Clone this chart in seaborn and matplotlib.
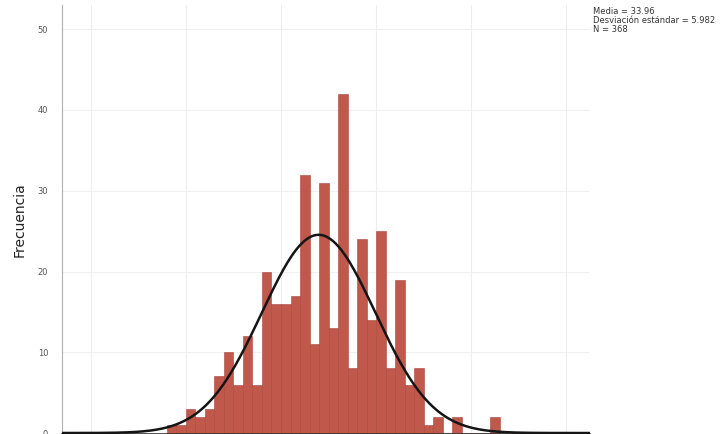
import numpy as np
import pandas as pd
import matplotlib
matplotlib.use("Agg")
import matplotlib.pyplot as plt
import seaborn as sns

# puntajes (valor entero) y su frecuencia
valores = [18, 19, 20, 21, 22, 23, 24, 25, 26, 27, 28, 29, 30, 31, 32, 33, 34, 35,
           36, 37, 38, 39, 40, 41, 42, 43, 44, 45, 46, 47, 48, 49, 50, 51, 52]
frecuencias = [1, 1, 3, 2, 3, 7, 10, 6, 12, 6, 20, 16, 16, 17, 32, 11, 31, 13,
               42, 8, 24, 14, 25, 8, 19, 6, 8, 1, 2, 0, 2, 0, 0, 0, 2]
media = 33.96
desv = 5.982
n = 368
yticks = [0, 10, 20, 30, 40, 50]

df = pd.DataFrame({'valor': valores, 'frecuencia': frecuencias})

sns.set_style('white')
plt.rcParams['font.family'] = ['DejaVu Sans']

fig = plt.figure(figsize=(7.21, 4.34), dpi=100)
ax = fig.add_axes([0.086, 0.0, 0.732, 0.9885])

# grid (muy tenue)
for y in yticks[1:]:
    ax.axhline(y, color='#f0f0f0', lw=0.8, zorder=0)
for x in [10, 20, 30, 40, 50, 60]:
    ax.axvline(x, color='#eeeeee', lw=0.8, zorder=0)

sns.histplot(data=df, x='valor', weights='frecuencia', binwidth=1, binrange=(18, 53),
             color='#c0584c', edgecolor='#a8443a', linewidth=0.4, alpha=1,
             ax=ax, zorder=2)

# curva normal
xs = np.linspace(5, 66, 400)
ys = n * 1.0 * np.exp(-0.5 * ((xs - media) / desv) ** 2) / (desv * np.sqrt(2 * np.pi))
ax.plot(xs, ys, color='#151515', lw=1.8, zorder=3)

ax.set_xlim(6.95, 62.5)
ax.set_ylim(-0.12, 53)
ax.set_yticks(yticks)
ax.set_yticklabels([str(t) for t in yticks], fontsize=6, color='#555555')
ax.tick_params(axis='y', length=0, pad=10)
ax.set_xticks([])
ax.set_xlabel('')
ax.set_ylabel('Frecuencia', fontsize=10, color='#222222', labelpad=8)

for s in ['top', 'right']:
    ax.spines[s].set_visible(False)
ax.spines['left'].set_color('#b0b0b0')
ax.spines['left'].set_linewidth(0.8)
ax.spines['bottom'].set_color('#333333')
ax.spines['bottom'].set_linewidth(1.2)

fig.text(0.823, 0.985,
         'Media = %.2f\nDesviación estándar = %.3f\nN = %d' % (media, desv, n),
         fontsize=6, color='#333333', va='top', ha='left', linespacing=1.0)

fig.savefig('out.png', dpi=100)
